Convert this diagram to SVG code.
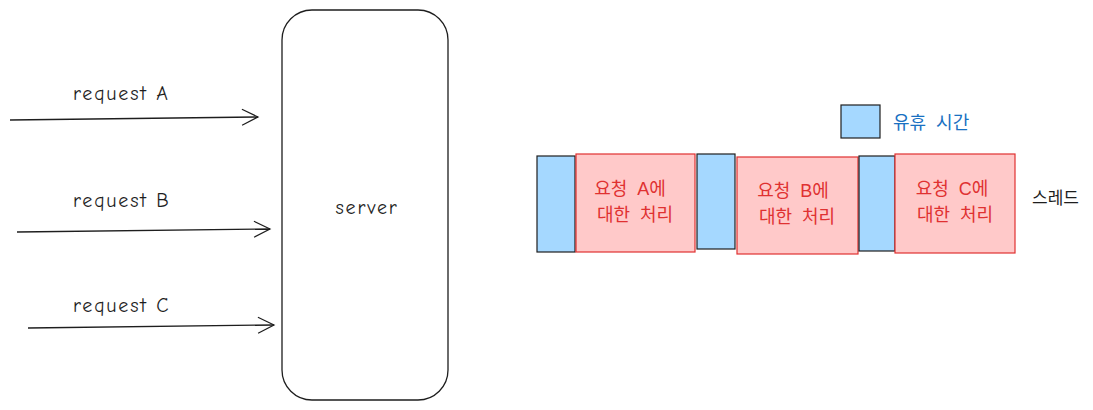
<svg xmlns="http://www.w3.org/2000/svg" width="1093" height="410" viewBox="0 0 1093 410">
<defs>
<marker id="ah" markerWidth="20" markerHeight="20" refX="18" refY="10" orient="auto" markerUnits="userSpaceOnUse">
<path d="M2,2 L18,10 L2,18" fill="none" stroke="#1e1e1e" stroke-width="1.2"/>
</marker>
<style>
.lbl{font-family:"Comic Neue","Liberation Sans",sans-serif;font-size:20px;letter-spacing:1.8px;fill:#1e1e1e}
.kr{font-family:"Liberation Sans","Noto Sans CJK KR",sans-serif;font-size:18px;word-spacing:5px}
.red{fill:#e03131}
.idle{fill:#a5d8ff;stroke:#1e1e1e;stroke-width:1.2}
.task{fill:#ffc9c9;stroke:#e03131;stroke-width:1.2}
.conn{stroke:#1e1e1e;stroke-width:1.3;fill:none}
</style>
</defs>
<rect width="1093" height="410" fill="#ffffff"/>
<g id="server">
<rect x="282" y="10" width="166" height="390" rx="30" ry="30" fill="#ffffff" stroke="#1e1e1e" stroke-width="1.3"/>
<text x="367" y="214" text-anchor="middle" class="lbl">server</text>
</g>
<g id="connectors">
<path class="conn" d="M10,120 L258,117" marker-end="url(#ah)"/>
<path class="conn" d="M17,232 L270,229" marker-end="url(#ah)"/>
<path class="conn" d="M28,328 L274,325" marker-end="url(#ah)"/>
</g>
<g id="labels">
<text x="73" y="100" class="lbl">request A</text>
<text x="73" y="207" class="lbl">request B</text>
<text x="73" y="312" class="lbl">request C</text>
</g>
<g id="legend">
<rect x="841" y="105" width="39" height="33" class="idle"/>
<text x="893" y="129" class="kr" fill="#1971c2">유휴 시간</text>
</g>
<g id="idle1"><rect x="537" y="156" width="38" height="96" class="idle"/></g>
<g id="taskA">
<rect x="576" y="154" width="119" height="98" class="task"/>
<text x="630" y="195" text-anchor="middle" class="kr red">요청 A에</text>
<text x="635" y="221" text-anchor="middle" class="kr red">대한 처리</text>
</g>
<g id="idle2"><rect x="697" y="154" width="38" height="95" class="idle"/></g>
<g id="taskB">
<rect x="737" y="157" width="121" height="97" class="task"/>
<text x="793" y="197" text-anchor="middle" class="kr red">요청 B에</text>
<text x="797" y="223" text-anchor="middle" class="kr red">대한 처리</text>
</g>
<g id="idle3"><rect x="859" y="156" width="36" height="95" class="idle"/></g>
<g id="taskC">
<rect x="895" y="154" width="120" height="99" class="task"/>
<text x="952" y="195" text-anchor="middle" class="kr red">요청 C에</text>
<text x="955" y="221" text-anchor="middle" class="kr red">대한 처리</text>
</g>
<g id="thread">
<text x="1032" y="204" class="kr" fill="#1e1e1e" style="font-size:17px">스레드</text>
</g>
</svg>
